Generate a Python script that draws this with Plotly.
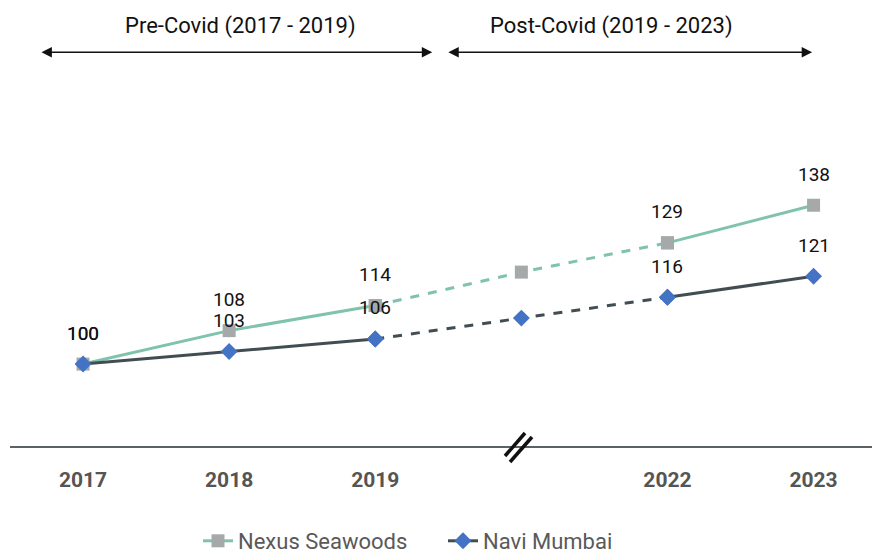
import plotly.graph_objects as go

categories = ["2017", "2018", "2019", "", "2022", "2023"]
nexus = [100, 108, 114, 122, 129, 138]
navi = [100, 103, 106, 111, 116, 121]
labeled = [True, True, True, False, True, True]
period_labels = ["Pre-Covid (2017 - 2019)", "Post-Covid (2019 - 2023)"]
series_names = ["Nexus Seawoods", "Navi Mumbai"]

FONT = "Roboto"
xs = list(range(len(categories)))
break_idx = 3

fig = go.Figure()

styles = [
    dict(line="#80c3ad", marker="#a5a9aa", symbol="square", msize=13),
    dict(line="#414d52", marker="#4472c4", symbol="diamond", msize=13),
]

for vals, name, st in zip([nexus, navi], series_names, styles):
    dx = xs[break_idx - 1:break_idx + 2]
    dy = vals[break_idx - 1:break_idx + 2]
    fig.add_trace(go.Scatter(
        x=dx, y=dy, mode="lines+markers", showlegend=False, hoverinfo="skip",
        line=dict(color=st["line"], width=3, dash="dash"),
        marker=dict(color=st["marker"], symbol=st["symbol"], size=st["msize"]),
    ))
    sy = [v if i != break_idx else None for i, v in enumerate(vals)]
    fig.add_trace(go.Scatter(
        x=xs, y=sy, mode="lines+markers", name=name, connectgaps=False,
        line=dict(color=st["line"], width=3),
        marker=dict(color=st["marker"], symbol=st["symbol"], size=st["msize"]),
    ))

annotations = []
for vals in [nexus, navi]:
    for i, v in enumerate(vals):
        if labeled[i]:
            annotations.append(dict(
                x=xs[i], y=v, text=str(v), showarrow=False, yshift=31,
                font=dict(family=FONT, size=19, color="#111111"),
            ))

# period arrows
arrow_y = 174.6
text_y = 180.9
annotations.append(dict(x=2.39, y=arrow_y, ax=-0.295, ay=arrow_y, axref="x", ayref="y",
                        xref="x", yref="y", text="", showarrow=True, arrowhead=2,
                        arrowside="end+start", arrowsize=1.3, arrowwidth=1.6, arrowcolor="#111111"))
annotations.append(dict(x=4.99, y=arrow_y, ax=2.49, ay=arrow_y, axref="x", ayref="y",
                        xref="x", yref="y", text="", showarrow=True, arrowhead=2,
                        arrowside="end+start", arrowsize=1.3, arrowwidth=1.6, arrowcolor="#111111"))
annotations.append(dict(x=1.08, y=text_y, text=period_labels[0], showarrow=False,
                        font=dict(family=FONT, size=22, color="#111111")))
annotations.append(dict(x=3.62, y=text_y, text=period_labels[1], showarrow=False,
                        font=dict(family=FONT, size=22, color="#111111")))

# axis-break marker (paper-referenced so it is not clipped by the plot area)
shapes = []
for (x0, y0, x1, y1) in [(-13, -10, 7, 13), (-8, -16, 14, 9)]:
    shapes.append(dict(type="line", xref="paper", yref="paper", xsizemode="pixel",
                       ysizemode="pixel", xanchor=(518 - 10) / 862, yanchor=0,
                       x0=x0, y0=y0, x1=x1, y1=y1,
                       line=dict(color="#111111", width=3.5)))

fig.update_layout(
    width=872, height=549,
    margin=dict(l=10, r=0, t=0, b=103),
    paper_bgcolor="white", plot_bgcolor="white",
    annotations=annotations, shapes=shapes,
    showlegend=True,
    legend=dict(orientation="h", x=(198 - 10) / 862, xanchor="left", yref="container",
                y=(549 - 541) / 549, yanchor="middle", entrywidth=200,
                font=dict(family=FONT, size=22, color="#595959"),
                traceorder="normal"),
    xaxis=dict(range=[-0.5, 5.4], tickvals=[x for x, c in zip(xs, categories) if c],
               ticktext=[c for c in categories if c], showgrid=False, zeroline=False,
               showline=True, linecolor="#5a6266", linewidth=2, ticks="",
               ticklabelstandoff=14,
               tickfont=dict(family=FONT, size=21, color="#555555", weight="bold")),
    yaxis=dict(range=[80.4, 187.1], visible=False, showgrid=False, zeroline=False),
)

fig.write_html("out.html")
